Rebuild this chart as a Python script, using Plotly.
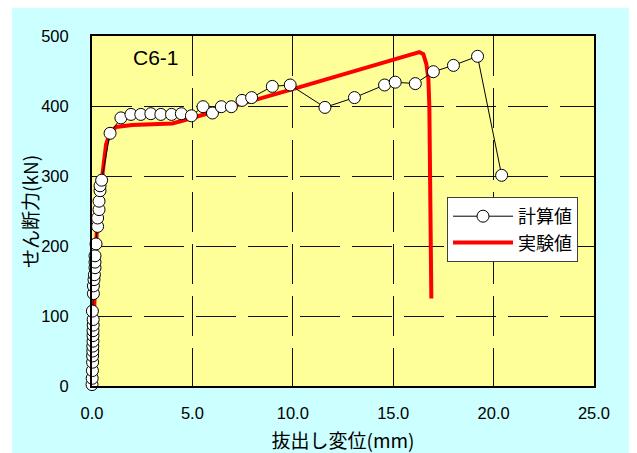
import plotly.graph_objects as go

# Calculated values (計算値)
calc_x = [0.00, 0.01, 0.02, 0.03, 0.03, 0.04, 0.04, 0.05, 0.05, 0.05, 0.06, 0.06,
          0.02, 0.07, 0.07, 0.10, 0.12, 0.15, 0.15, 0.15, 0.20, 0.28, 0.28, 0.35,
          0.35, 0.40, 0.40, 0.48,
          0.90, 1.44, 1.94, 2.43, 2.93, 3.43, 3.96, 4.45, 4.95, 5.53, 6.00, 6.44,
          6.94, 7.47, 7.95, 8.98, 9.87, 11.60, 13.07, 14.57, 15.10, 16.10, 17.00,
          18.00, 19.20, 20.40]
calc_y = [2, 11, 22, 34, 43, 50, 57, 64, 72, 79, 87, 95,
          107, 132, 143, 152, 159, 169, 177, 186, 203, 228, 240, 252,
          264, 279, 286, 294,
          361, 383, 388, 388, 389, 388, 388, 389, 386, 399, 390, 399,
          399, 408, 412, 428, 430, 398, 412, 430, 434, 432, 449,
          458, 471, 301]

# Experimental values (実験値)
exp_x = [0.00, 0.05, 0.10, 0.15, 0.20, 0.30, 0.45, 0.55, 0.70, 0.90, 1.20, 2.00,
         3.00, 4.00, 4.50, 5.00, 10.00, 16.30, 16.50, 16.65, 16.75, 16.80, 16.85,
         16.88, 16.90]
exp_y = [0, 50, 100, 150, 200, 250, 290, 310, 345, 362, 370, 373,
         374, 375, 379, 383, 424, 477, 474, 460, 440, 400, 300,
         200, 125]

x_ticks = [0, 5, 10, 15, 20, 25]
x_tick_text = ["0.0", "5.0", "10.0", "15.0", "20.0", "25.0"]
y_ticks = [0, 100, 200, 300, 400, 500]

JP = "Noto Sans CJK JP"
NUM = "Liberation Sans, Noto Sans CJK JP"

fig = go.Figure()
fig.add_trace(go.Scatter(
    x=exp_x, y=exp_y, mode="lines", name="実験値",
    line=dict(color="#FF0000", width=4),
))
fig.add_trace(go.Scatter(
    x=calc_x, y=calc_y, mode="lines+markers", name="計算値",
    line=dict(color="black", width=1), cliponaxis=False,
    marker=dict(symbol="circle", size=12, color="white",
                line=dict(color="black", width=1)),
))

# white strip at the left edge of the cyan panel
fig.add_shape(type="rect", xref="paper", yref="paper",
              x0=-84 / 502, x1=-80 / 502, y0=-0.3, y1=1.2,
              fillcolor="white", line=dict(width=0), layer="below")

fig.add_annotation(xref="paper", yref="paper", x=(131 - 92) / 502,
                   y=(386 - 58) / 350, xanchor="left", yanchor="middle",
                   text="C6-1", showarrow=False,
                   font=dict(family=NUM, size=21, color="black"))

# y-axis title
fig.add_annotation(xref="paper", yref="paper", x=(29 - 92) / 502,
                   y=(386 - 212) / 350, xanchor="center", yanchor="middle",
                   text="せん断力(kN)", textangle=-90, showarrow=False,
                   font=dict(family=JP, size=19, color="black"))

axis_common = dict(
    showline=True, linecolor="black", linewidth=2, mirror=True,
    showgrid=True, gridcolor="#101010", gridwidth=1, griddash="40px,12px",
    zeroline=False, ticks="", automargin=False,
    tickfont=dict(family=NUM, size=16.5, color="black"),
)

fig.update_xaxes(range=[0, 25], tickvals=x_ticks, ticktext=x_tick_text,
                 ticklabelstandoff=11,
                 title=dict(text="抜出し変位(mm)", standoff=15,
                            font=dict(family=JP, size=19, color="black")),
                 **axis_common)
fig.update_yaxes(range=[0, 500], tickvals=y_ticks, ticklabelstandoff=18,
                 **axis_common)

fig.update_layout(
    width=629, height=445,
    margin=dict(l=84, r=43, t=28, b=67),
    paper_bgcolor="#CCFFFF", plot_bgcolor="#FFFF99",
    showlegend=True,
    legend=dict(x=(447 - 92) / 502, y=(386 - 197) / 350, xanchor="left",
                yanchor="top", bgcolor="white", bordercolor="#404040",
                borderwidth=1, font=dict(family=JP, size=18, color="black"),
                traceorder="reversed", itemwidth=60),
)

fig.write_html("out.html")
